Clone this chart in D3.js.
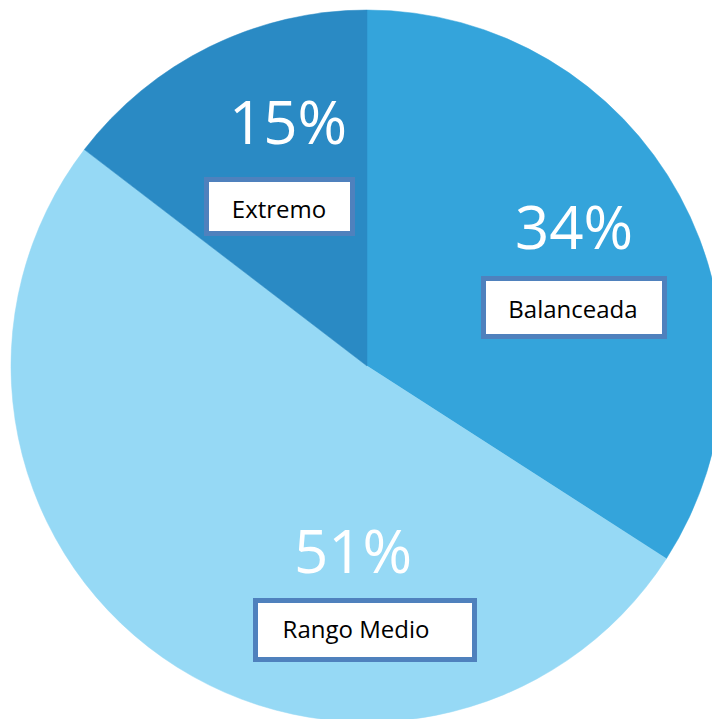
<!DOCTYPE html>
<html>
<head>
<meta charset="utf-8">
<script src="https://cdn.jsdelivr.net/npm/d3@7"></script>
<style>
  html, body { margin: 0; padding: 0; background: #fff; }
  svg { display: block; }
</style>
</head>
<body>
<svg id="chart" width="712" height="719"></svg>
<script>
// Data
const categories = ["Balanceada", "Rango Medio", "Extremo"];
const values = [34.1, 51.3, 14.6];
const percentLabels = ["34%", "51%", "15%"];
const colors = ["#34A4DB", "#96D9F5", "#2A8AC4"];

// Layout (label placement, in px)
const labelLayout = [
  { pctX: 574, pctY: 249, box: [481, 276, 667, 339], txtX: 573, txtY: 318 },
  { pctX: 353, pctY: 573, box: [253, 598, 477, 662], txtX: 356, txtY: 638 },
  { pctX: 288, pctY: 144, box: [204, 177, 355, 236], txtX: 279, txtY: 218 }
];

const svg = d3.select("#chart");
const cx = 367, cy = 366, R = 356;

const pie = d3.pie().sort(null).value(d => d.value).startAngle(0).endAngle(2 * Math.PI);
const data = categories.map((c, i) => ({ name: c, value: values[i], pct: percentLabels[i], color: colors[i], layout: labelLayout[i] }));
const arcs = pie(data);
const arc = d3.arc().innerRadius(0).outerRadius(R);

const g = svg.append("g").attr("transform", `translate(${cx},${cy})`);
g.selectAll("path.slice")
  .data(arcs)
  .join("path")
  .attr("class", "slice")
  .attr("d", arc)
  .attr("fill", d => d.data.color)
  .attr("stroke", d => d.data.color)
  .attr("stroke-width", 0.5);

const labels = svg.selectAll("g.label").data(data).join("g").attr("class", "label");

labels.append("text")
  .attr("x", d => d.layout.pctX)
  .attr("y", d => d.layout.pctY)
  .attr("text-anchor", "middle")
  .attr("font-family", "'Open Sans', 'Noto Sans', sans-serif")
  .attr("font-weight", 400)
  .attr("font-size", 60)
  .attr("fill", "#ffffff")
  .text(d => d.pct);

const bw = 5;
labels.append("rect")
  .attr("x", d => d.layout.box[0] + bw / 2)
  .attr("y", d => d.layout.box[1] + bw / 2)
  .attr("width", d => d.layout.box[2] - d.layout.box[0] - bw)
  .attr("height", d => d.layout.box[3] - d.layout.box[1] - bw)
  .attr("fill", "#ffffff")
  .attr("stroke", "#4F81BD")
  .attr("stroke-width", bw);

labels.append("text")
  .attr("x", d => d.layout.txtX)
  .attr("y", d => d.layout.txtY)
  .attr("text-anchor", "middle")
  .attr("font-family", "'Open Sans', 'Noto Sans', sans-serif")
  .attr("font-size", 24)
  .attr("fill", "#000000")
  .text(d => d.name);
</script>
</body>
</html>
